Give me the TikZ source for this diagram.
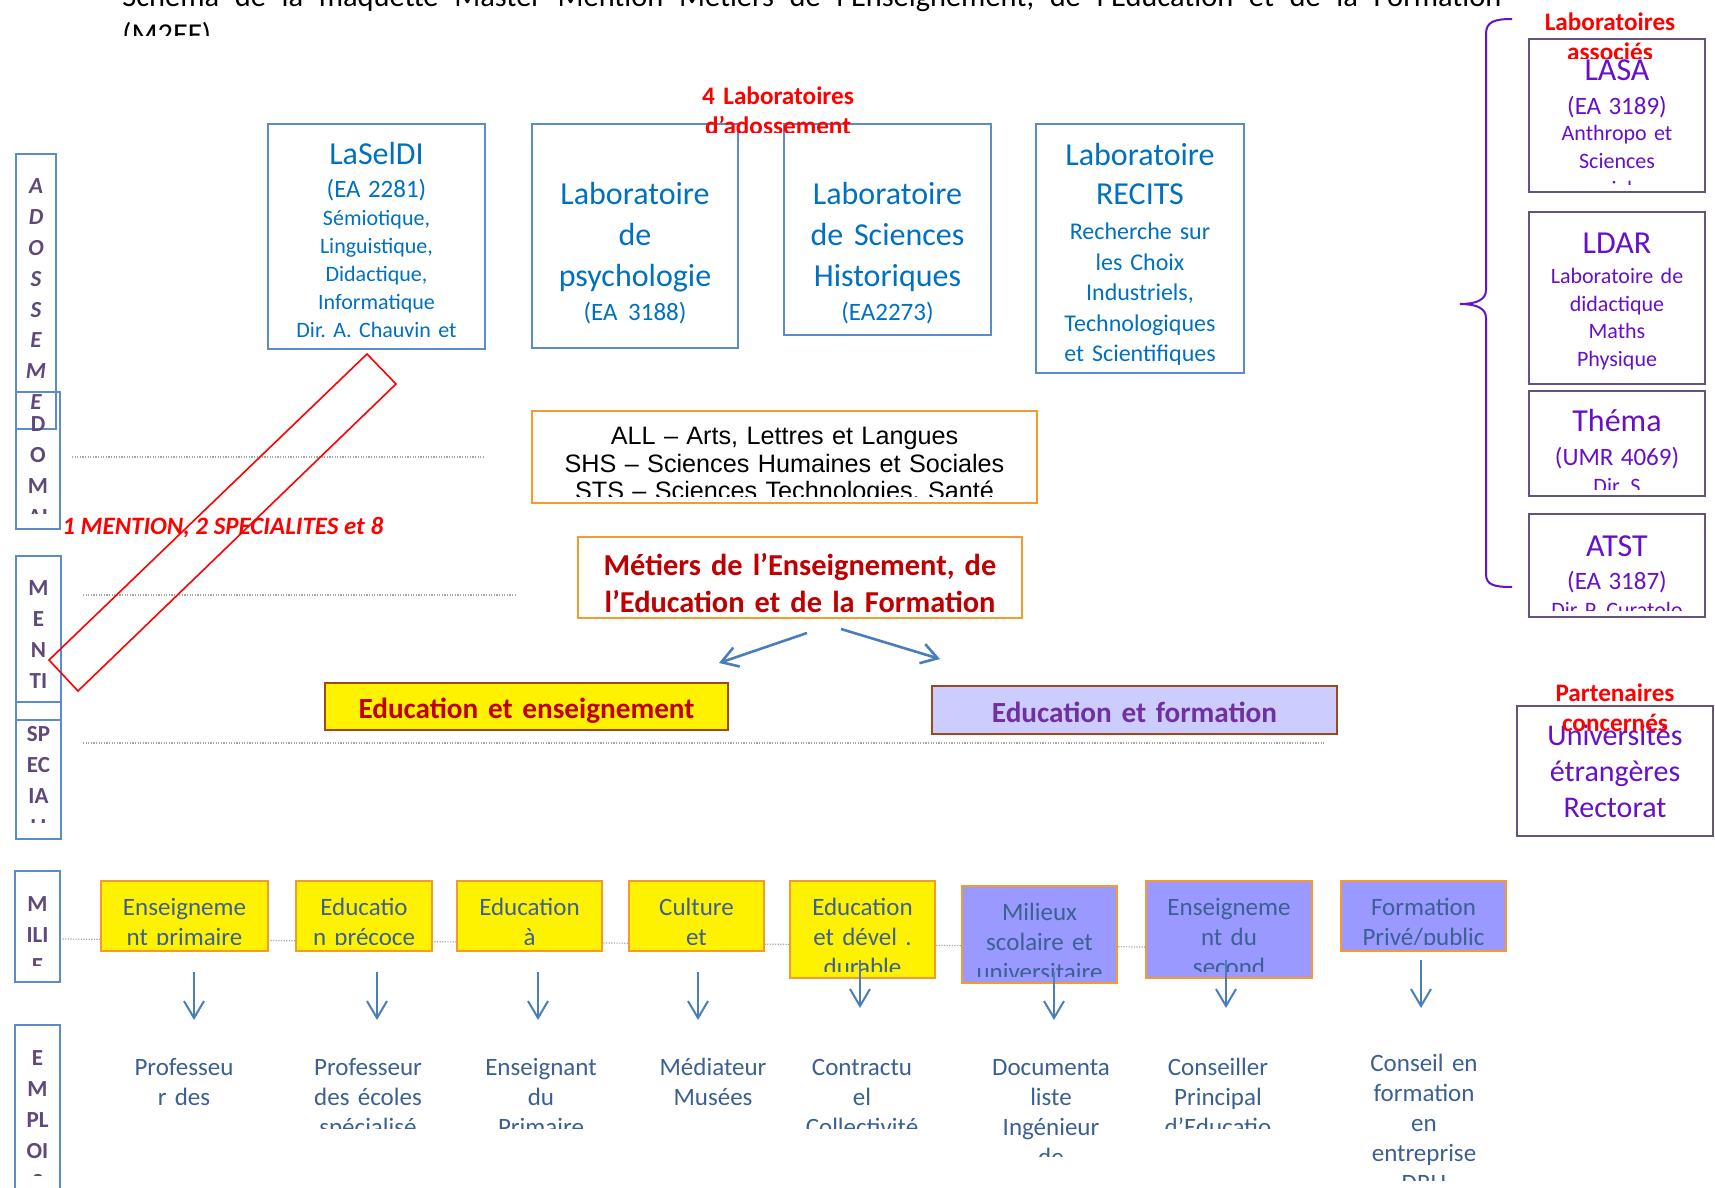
\documentclass[tikz,border=0pt]{standalone}
\usepackage{fontspec}
\setmainfont{Carlito}
\newfontfamily\arialfont{Liberation Sans}
\usetikzlibrary{arrows.meta, fit}
\frenchspacing

\definecolor{labblue}{HTML}{0070C0}
\definecolor{labframe}{HTML}{5B8BC9}
\definecolor{assoc}{HTML}{6610CC}
\definecolor{assocframe}{HTML}{64537F}
\definecolor{sidetext}{HTML}{5F497A}
\definecolor{darkred}{HTML}{C00000}
\definecolor{orangeframe}{HTML}{F59B2D}
\definecolor{brownframe}{HTML}{9C4A1A}
\definecolor{lavender}{HTML}{CCCCFF}
\definecolor{specpurple}{HTML}{7030A0}
\definecolor{milieublue}{HTML}{9999FF}
\definecolor{jobblue}{HTML}{3B6091}
\definecolor{arrowblue}{HTML}{4A7EBB}
\definecolor{guidegrey}{HTML}{A6A6A6}

\newcommand{\labtitle}[1]{{\fontsize{16}{16}\selectfont #1}}
\newcommand{\labcode}[1]{{\fontsize{12.5}{14}\selectfont #1}}

% text of a frame, cut at its lower edge
\tikzset{clipgap/.store in=\clipgap, clipgap=3.5pt}
\tikzset{txt/.style n args={3}{path picture={%
  \clip (path picture bounding box.north west) rectangle ([yshift=\clipgap]path picture bounding box.south east);
  \node[path picture={}, minimum size=0pt, inner sep=0pt, anchor=base, align=center, #1]
    at ([yshift=-#2*0.5pt]path picture bounding box.north) {#3};}}}
\tikzset{
  labtext/.style={text=labblue, font=\fontsize{11}{14}\selectfont},
  bigtext/.style={text=labblue, font=\fontsize{16}{20.5}\selectfont},
  recitstext/.style={text=labblue, font=\fontsize{12}{15.25}\selectfont},
  assoctext/.style={text=assoc, font=\fontsize{11}{14}\selectfont},
  redtext/.style={text=red, font=\bfseries\fontsize{12.6}{15}\selectfont},
  sideletter/.style={text=sidetext, font=\bfseries\fontsize{11.5}{15.5}\selectfont},
  sideitalic/.style={text=sidetext, font=\bfseries\itshape\fontsize{11.5}{15.4}\selectfont},
  jobtext/.style={text=jobblue, font=\fontsize{12.5}{15}\selectfont},
}
\tikzstyle{labbox} = [rectangle, inner sep=0pt, draw=labframe, line width=1pt]
\tikzstyle{assocbox} = [rectangle, inner sep=0pt, draw=assocframe, line width=1.1pt]
\tikzstyle{domainbox} = [rectangle, inner sep=0pt, draw=orangeframe, line width=1.1pt]
\tikzstyle{specbox} = [rectangle, inner sep=0pt, draw=brownframe, line width=1.4pt]
\tikzstyle{milieubox} = [rectangle, inner sep=0pt, draw=orangeframe, line width=1.4pt]
\tikzstyle{hiddenbox} = [rectangle, inner sep=0pt, draw=white, draw opacity=0]
\tikzstyle{arrow} = [draw=arrowblue, line width=1pt, -{Straight Barb[length=8.5pt,width=10pt]}]
\tikzstyle{bigarrow} = [draw=arrowblue, line width=1.3pt, -{Straight Barb[length=8pt,width=10pt]}]
\tikzstyle{guideline} = [draw=guidegrey, line width=0.6pt, dash pattern=on 0.6pt off 0.7pt]

\begin{document}
\begin{tikzpicture}[x=0.5pt, y=-0.5pt]
\useasboundingbox[fill=white] (0,0) rectangle (1715,1188);

% title (justified first line)
\node (title) [hiddenbox, fit={(0,-40) (1715,43)}, txt={anchor=base west, align=left, xshift=-367.75pt, font=\fontsize{15.2}{19}\selectfont}{47}{\hbox to 689.5pt{Schéma\hfill de\hfill la\hfill maquette\hfill Master\hfill Mention\hfill Métiers\hfill de\hfill l’Enseignement,\hfill de\hfill l’Education\hfill et\hfill de\hfill la\hfill Formation}\\ (M2EF)}] {};

% dotted level lines
\draw[guideline] (72,457) -- (483,457);
\draw[guideline] (83,595) -- (517,595);
\draw[guideline] (83,743) -- (1324,743);
\draw[guideline] (60,939) -- (1146,947);

% levels on the left
\node (adossement) [labbox, fit={(16,154) (56,429)}, txt={sideitalic}{40}{A\\ D\\ O\\ S\\ S\\ E\\ M\\ E\\ N\\ T}] {};
\node (domaine) [labbox, clipgap=8pt, fit={(16,392) (60,529)}, txt={sideletter}{39}{D\\ O\\ M\\ AI\\ NE}] {};
\node (mention) [labbox, clipgap=8.5pt, fit={(16,556) (61,720)}, txt={sideletter}{39}{M\\ E\\ N\\ TI\\ O\\ N}] {};
\node (specialite) [labbox, clipgap=8.5pt, fit={(16,702) (61,839)}, txt={sideletter}{39}{SP\\ EC\\ IA\\ LI\\ TE}] {};
\node (milieu) [labbox, clipgap=8.5pt, fit={(15,871) (60,982)}, txt={sideletter}{40}{M\\ ILI\\ E\\ UX}] {};
\node (emploi) [labbox, clipgap=17.5pt, fit={(15,1025) (60,1210)}, txt={sideletter}{40}{E\\ M\\ PL\\ OI\\ S}] {};

% red frame and count
\draw[red, line width=0.8pt] (367,354) -- (396,384) -- (78,691) -- (49,660) -- cycle;
\node (count) [text=red, font=\bfseries\itshape\fontsize{12.5}{15}\selectfont, anchor=base west, inner sep=0pt] at (62,534) {1 MENTION, 2 SPECIALITES et 8};

% laboratoires d'adossement
\node (laseldi) [labbox, fit={(268,124) (485,349)}, txt={labtext}{41}{\labtitle{LaSelDI}\\[2.5pt] \labcode{(EA 2281)}\\ Sémiotique,\\ Linguistique,\\ Didactique,\\ Informatique\\ Dir. A. Chauvin et}] {};
\node (psycho) [labbox, fit={(532,124) (738,348)}, txt={bigtext}{81}{Laboratoire\\ de\\ psychologie\\[-3.5pt] \labcode{(EA 3188)}}] {};
\node (histo) [labbox, fit={(784,124) (991,335)}, txt={bigtext}{81}{Laboratoire\\ de Sciences\\ Historiques\\[-3.5pt] \labcode{(EA2273)}}] {};
\node (recits) [labbox, fit={(1036,124) (1244,373)}, txt={recitstext}{42}{\labtitle{Laboratoire}\\[4.25pt] \labtitle{RECITS}\\[2.25pt] Recherche sur\\ les Choix\\ Industriels,\\ Technologiques\\ et Scientifiques}] {};
\node (adosslabel) [hiddenbox, fit={(678,70) (878,140)}, txt={redtext}{35}{4 Laboratoires\\ d’adossement}] {};

% laboratoires associes
\draw[assoc, line width=1pt] (1512,19) .. controls (1494,19) and (1486,22) .. (1486,34) -- (1486,290)
  .. controls (1486,300) and (1476,304) .. (1460,304) .. controls (1476,304) and (1486,308) .. (1486,318)
  -- (1486,574) .. controls (1486,585) and (1494,587) .. (1512,587);
\node (lasa) [assocbox, fit={(1529,39) (1705,192)}, txt={assoctext}{42}{\labtitle{LASA}\\[3pt] \labcode{(EA 3189)}\\[-1pt] Anthropo et\\ Sciences\\ sociales}] {};
\node (ldar) [assocbox, fit={(1529,212) (1705,384)}, txt={assoctext}{41}{\labtitle{LDAR}\\[1pt] Laboratoire de\\ didactique\\ Maths\\ Physique}] {};
\node (thema) [assocbox, fit={(1529,391) (1705,496)}, txt={assoctext}{40}{\labtitle{Théma}\\[3pt] \labcode{(UMR 4069)}\\ Dir. S}] {};
\node (atst) [assocbox, fit={(1529,514) (1705,617)}, txt={assoctext}{42}{\labtitle{ATST}\\[2.5pt] \labcode{(EA 3187)}\\ Dir P. Curatolo}] {};
\node (assoclabel) [hiddenbox, fit={(1515,0) (1705,66)}, txt={redtext}{31}{Laboratoires\\ associés}] {};

% partenaires
\node (partners) [assocbox, fit={(1517,706) (1713,836)}, txt={text=assoc, font=\fontsize{15}{18}\selectfont}{39}{Universités\\ étrangères\\ Rectorat}] {};
\node (partlabel) [hiddenbox, fit={(1515,670) (1715,738)}, txt={redtext}{31}{Partenaires\\ concernés}] {};

% domaines, mention, specialites
\node (domains) [domainbox, fit={(532,411) (1037,503)}, txt={text=black, font=\arialfont\fontsize{12.6}{14}\selectfont}{33}{ALL – Arts, Lettres et Langues\\ SHS – Sciences Humaines et Sociales\\ STS – Sciences Technologies, Santé}] {};
\node (metiers) [domainbox, clipgap=0pt, fit={(578,537) (1022,618)}, txt={text=darkred, font=\bfseries\fontsize{15.2}{18.5}\selectfont}{38}{Métiers de l’Enseignement, de\\ l’Education et de la Formation}] {};
\node (enseig) [specbox, fill=yellow, fit={(325,683) (728,730)}, txt={text=darkred, font=\bfseries\fontsize{14.6}{17}\selectfont}{35}{Education et enseignement}] {};
\node (format) [specbox, fill=lavender, fit={(932,686) (1337,734)}, txt={text=specpurple, font=\bfseries\fontsize{14.6}{17}\selectfont}{36}{Education et formation}] {};
\coordinate (splitl) at (807,633);
\coordinate (splitr) at (841,629);
\coordinate (tipl) at (719,663);
\coordinate (tipr) at (940,659);
\draw[bigarrow] (splitl) -- (tipl);
\draw[bigarrow] (splitr) -- (tipr);

% milieux
\node (m1) [milieubox, fill=yellow, fit={(101,881) (268,951)}, txt={jobtext}{34}{Enseigneme\\ nt primaire}] {};
\node (m2) [milieubox, fill=yellow, fit={(296,881) (432,951)}, txt={jobtext}{34}{Educatio\\ n précoce}] {};
\node (m3) [milieubox, fill=yellow, fit={(457,881) (602,951)}, txt={jobtext}{34}{Education\\ à}] {};
\node (m4) [milieubox, fill=yellow, fit={(629,881) (764,951)}, txt={jobtext}{34}{Culture\\ et}] {};
\node (m5) [milieubox, fill=yellow, fit={(790,881) (935,978)}, txt={jobtext}{34}{Education\\ et dével .\\ durable}] {};
\node (m6) [milieubox, fill=milieublue, fit={(962,886) (1117,983)}, txt={jobtext}{34}{Milieux\\ scolaire et\\ universitaire}] {};
\node (m7) [milieubox, fill=milieublue, fit={(1146,881) (1312,978)}, txt={jobtext}{34}{Enseigneme\\ nt du\\ second}] {};
\node (m8) [milieubox, fill=milieublue, fit={(1341,881) (1506,951)}, txt={jobtext}{34}{Formation\\ Privé/public}] {};

% emplois
\node (e1) [hiddenbox, fit={(109,1040) (259,1112)}, txt={jobtext}{35}{Professeu\\ r des}] {};
\node (e2) [hiddenbox, fit={(293,1040) (443,1135)}, txt={jobtext}{35}{Professeur\\ des écoles\\ spécialisé}] {};
\node (e3) [hiddenbox, fit={(466,1040) (616,1135)}, txt={jobtext}{35}{Enseignant\\ du\\ Primaire}] {};
\node (e4) [hiddenbox, fit={(638,1040) (788,1112)}, txt={jobtext}{35}{Médiateur\\ Musées}] {};
\node (e5) [hiddenbox, fit={(787,1040) (937,1135)}, txt={jobtext}{35}{Contractu\\ el\\ Collectivité}] {};
\node (e6) [hiddenbox, fit={(976,1040) (1126,1163)}, txt={jobtext}{35}{Documenta\\ liste\\ Ingénieur\\ de}] {};
\node (e7) [hiddenbox, fit={(1143,1040) (1293,1135)}, txt={jobtext}{35}{Conseiller\\ Principal\\ d’Educatio}] {};
\node (e8) [hiddenbox, fit={(1349,1036) (1499,1187)}, txt={jobtext}{35}{Conseil en\\ formation\\ en\\ entreprise\\ DRH}] {};

% arrows from milieux to emplois
\foreach \x/\y [count=\i] in {194/972, 377/972, 538/972, 698/972, 860/960, 1054/972, 1226/960, 1421/960} {
  \coordinate (from\i) at (\x,\y);
  \coordinate (to\i) at (\x,\y+48);
  \draw[arrow] (from\i) -- (to\i);
}
\end{tikzpicture}
\end{document}
